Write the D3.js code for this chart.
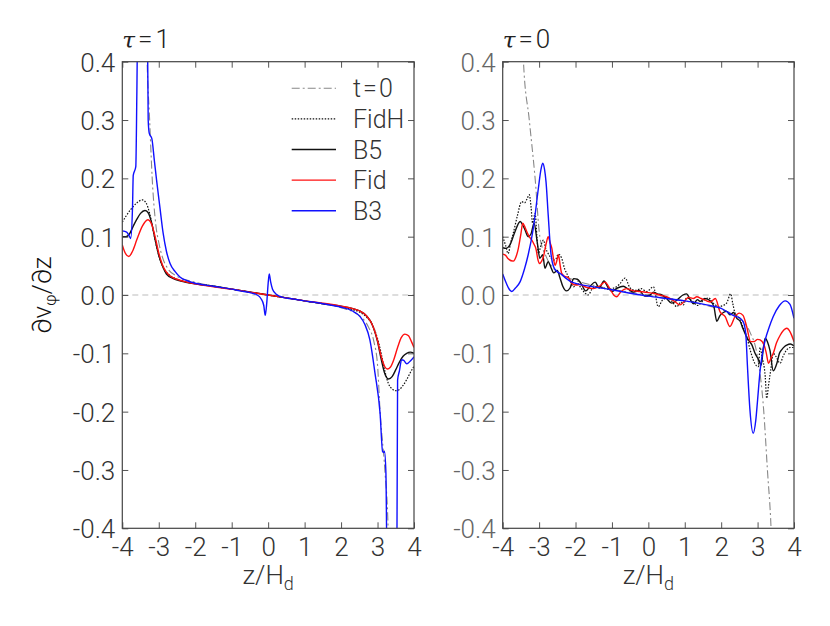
<!DOCTYPE html>
<html><head><meta charset="utf-8">
<script src="https://cdn.jsdelivr.net/npm/d3@7"></script>
<style>
body{margin:0;background:#fff;}
text{font-family:"Roboto","Liberation Sans",sans-serif;font-weight:300;}
</style></head>
<body><svg id="c" width="830" height="626"></svg>
<script>
// ---------- data ----------
const xTicks = [-4,-3,-2,-1,0,1,2,3,4];
const xTickLabels = ["-4","-3","-2","-1","0","1","2","3","4"];
const yTicks = [0.4,0.3,0.2,0.1,0,-0.1,-0.2,-0.3,-0.4];
const yTickLabels = ["0.4","0.3","0.2","0.1","0.0","-0.1","-0.2","-0.3","-0.4"];
const seriesNames = ["t=0","FidH","B5","Fid","B3"];
const panelTitles = ["1","0"];

// Panel tau=1
const leftT0 = [[-3.34,0.45],[-3.32,0.4],[-3.25,0.30],[-3.18,0.20],[-3.08,0.12],[-3.0,0.09],[-2.9,0.065],[-2.75,0.045],[-2.5,0.032],[-2.0,0.022],[-1.0,0.01],[0,0],[1,-0.01],[2,-0.022],[2.5,-0.035],[2.75,-0.055],[2.9,-0.08],[3.0,-0.12],[3.07,-0.2],[3.2,-0.3],[3.29,-0.4],[3.31,-0.45]];
const leftFidH = [[-4,0.125],[-3.9,0.135],[-3.75,0.148],[-3.6,0.158],[-3.45,0.163],[-3.35,0.158],[-3.25,0.14],[-3.15,0.11],[-3.05,0.08],[-2.95,0.058],[-2.85,0.044],[-2.7,0.034],[-2.5,0.027],[-2.2,0.022],[-2,0.02],[-1.5,0.015],[-1,0.01],[-0.5,0.005],[0,0],[0.5,-0.005],[1,-0.01],[1.5,-0.015],[2,-0.02],[2.3,-0.025],[2.5,-0.029],[2.7,-0.038],[2.85,-0.05],[3.0,-0.075],[3.1,-0.1],[3.2,-0.13],[3.3,-0.152],[3.4,-0.161],[3.5,-0.164],[3.6,-0.162],[3.7,-0.155],[3.8,-0.145],[3.9,-0.133],[4,-0.122]];
const leftB5 = [[-4,0.1],[-3.9,0.1],[-3.8,0.105],[-3.7,0.118],[-3.6,0.13],[-3.5,0.14],[-3.38,0.145],[-3.3,0.142],[-3.2,0.125],[-3.1,0.095],[-3.0,0.068],[-2.9,0.05],[-2.79,0.036],[-2.6,0.028],[-2.4,0.024],[-2,0.019],[-1.5,0.015],[-1,0.01],[-0.5,0.005],[0,0],[0.5,-0.005],[1,-0.01],[1.5,-0.015],[2,-0.019],[2.3,-0.023],[2.5,-0.027],[2.7,-0.036],[2.85,-0.05],[3.0,-0.08],[3.1,-0.11],[3.2,-0.135],[3.3,-0.144],[3.4,-0.14],[3.5,-0.128],[3.6,-0.115],[3.7,-0.105],[3.8,-0.1],[3.9,-0.098],[4,-0.1]];
const leftFid = [[-4,0.086],[-3.92,0.072],[-3.82,0.066],[-3.72,0.075],[-3.6,0.095],[-3.45,0.118],[-3.3,0.129],[-3.2,0.122],[-3.1,0.1],[-3.0,0.072],[-2.9,0.052],[-2.8,0.04],[-2.65,0.031],[-2.45,0.026],[-2,0.019],[-1.5,0.014],[-1,0.01],[-0.5,0.005],[0,0],[0.5,-0.005],[1,-0.01],[1.5,-0.014],[2,-0.019],[2.3,-0.023],[2.5,-0.027],[2.7,-0.036],[2.85,-0.05],[3.0,-0.078],[3.1,-0.105],[3.2,-0.123],[3.27,-0.127],[3.35,-0.124],[3.45,-0.11],[3.55,-0.09],[3.65,-0.073],[3.75,-0.067],[3.85,-0.07],[3.93,-0.08],[4,-0.09]];
const leftB3 = [[-4,0.11],[-3.88,0.108],[-3.8,0.1],[-3.77,0.097],[-3.72,0.15],[-3.70,0.205],[-3.63,0.22],[-3.6,0.35],[-3.58,0.45],[-3.31,0.45],[-3.29,0.3],[-3.26,0.277],[-3.19,0.268],[-3.12,0.23],[-3.06,0.197],[-2.97,0.151],[-2.88,0.106],[-2.79,0.075],[-2.69,0.054],[-2.55,0.04],[-2.42,0.031],[-2.2,0.024],[-2.05,0.021],[-1.5,0.015],[-1,0.01],[-0.77,0.007],[-0.5,0.004],[-0.3,0.0],[-0.2,-0.006],[-0.12,-0.018],[-0.08,-0.035],[-0.04,-0.015],[0.0,0.02],[0.03,0.036],[0.07,0.022],[0.12,0.01],[0.23,0.001],[0.4,-0.004],[0.6,-0.006],[1,-0.01],[1.5,-0.015],[2,-0.021],[2.3,-0.027],[2.52,-0.037],[2.65,-0.05],[2.79,-0.077],[2.93,-0.134],[3.07,-0.203],[3.14,-0.269],[3.17,-0.27],[3.19,-0.268],[3.23,-0.306],[3.26,-0.45],[3.53,-0.45],[3.55,-0.146],[3.6,-0.13],[3.66,-0.111],[3.72,-0.112],[3.8,-0.118],[3.9,-0.113],[4,-0.106]];

// Panel tau=0
const rightT0 = [[-3.46,0.45],[-3.43,0.4],[-3.27,0.30],[-3.11,0.20],[-2.98,0.10],[-2.8,0.065],[-2.6,0.045],[-2.3,0.032],[-2.0,0.025],[-1.0,0.01],[0,0],[1,-0.01],[2,-0.025],[2.3,-0.032],[2.6,-0.045],[2.8,-0.065],[2.98,-0.1],[3.17,-0.2],[3.27,-0.3],[3.37,-0.4],[3.4,-0.45]];
const rightFidH = [[-4,0.1],[-3.92,0.085],[-3.85,0.071],[-3.78,0.09],[-3.71,0.106],[-3.6,0.135],[-3.48,0.16],[-3.4,0.158],[-3.33,0.165],[-3.27,0.172],[-3.22,0.15],[-3.18,0.123],[-3.11,0.14],[-3.06,0.1],[-3.02,0.071],[-2.95,0.085],[-2.88,0.094],[-2.82,0.08],[-2.75,0.071],[-2.65,0.062],[-2.56,0.06],[-2.47,0.07],[-2.38,0.063],[-2.3,0.045],[-2.24,0.037],[-2.15,0.025],[-2.06,0.014],[-1.95,0.02],[-1.85,0.012],[-1.75,0.004],[-1.65,0.0],[-1.55,0.01],[-1.4,0.015],[-1.25,0.012],[-1.1,0.01],[-0.95,0.012],[-0.8,0.018],[-0.64,0.029],[-0.5,0.012],[-0.35,0.008],[-0.2,0.011],[-0.05,0.006],[0.14,0.014],[0.27,-0.02],[0.4,-0.008],[0.55,-0.005],[0.66,-0.012],[0.78,-0.02],[0.9,-0.012],[0.96,-0.017],[1.05,-0.005],[1.2,-0.01],[1.35,-0.018],[1.5,-0.01],[1.65,-0.005],[1.8,-0.015],[1.95,-0.02],[2.05,-0.018],[2.15,-0.014],[2.26,0.002],[2.32,-0.015],[2.38,-0.031],[2.5,-0.04],[2.6,-0.055],[2.7,-0.071],[2.8,-0.095],[2.88,-0.111],[2.95,-0.12],[3.02,-0.123],[3.07,-0.09],[3.12,-0.105],[3.21,-0.14],[3.25,-0.177],[3.3,-0.155],[3.36,-0.129],[3.43,-0.1],[3.5,-0.105],[3.62,-0.117],[3.7,-0.105],[3.8,-0.094],[3.9,-0.09],[4,-0.09]];
const rightB5 = [[-4,0.081],[-3.9,0.08],[-3.8,0.086],[-3.66,0.109],[-3.52,0.126],[-3.45,0.12],[-3.39,0.112],[-3.3,0.1],[-3.22,0.105],[-3.14,0.123],[-3.05,0.09],[-2.98,0.063],[-2.9,0.069],[-2.84,0.046],[-2.75,0.057],[-2.68,0.048],[-2.6,0.038],[-2.5,0.042],[-2.43,0.03],[-2.35,0.015],[-2.25,0.007],[-2.15,0.012],[-2.05,0.028],[-1.95,0.027],[-1.85,0.02],[-1.72,0.007],[-1.6,0.015],[-1.46,0.022],[-1.35,0.012],[-1.22,0.024],[-1.1,0.012],[-1.0,0.006],[-0.85,0.012],[-0.69,0.015],[-0.55,0.01],[-0.41,0.005],[-0.25,0.008],[-0.1,-0.002],[0.05,0.0],[0.14,0.005],[0.25,0.002],[0.37,0.0],[0.5,-0.006],[0.64,-0.014],[0.8,-0.008],[0.95,0.0],[1.05,0.002],[1.15,-0.008],[1.24,-0.015],[1.35,-0.008],[1.42,-0.011],[1.55,-0.006],[1.7,-0.01],[1.8,-0.02],[1.88,-0.045],[1.97,-0.035],[2.06,-0.03],[2.15,-0.028],[2.24,-0.034],[2.34,-0.03],[2.43,-0.04],[2.52,-0.045],[2.6,-0.058],[2.7,-0.072],[2.78,-0.08],[2.84,-0.085],[2.93,-0.1],[3.02,-0.11],[3.1,-0.12],[3.15,-0.095],[3.21,-0.074],[3.27,-0.08],[3.34,-0.095],[3.43,-0.13],[3.53,-0.117],[3.6,-0.1],[3.66,-0.094],[3.75,-0.088],[3.8,-0.086],[3.9,-0.084],[4,-0.087]];
const rightFid = [[-4,0.07],[-3.92,0.068],[-3.85,0.062],[-3.71,0.058],[-3.62,0.068],[-3.57,0.08],[-3.5,0.105],[-3.45,0.123],[-3.4,0.118],[-3.34,0.109],[-3.27,0.1],[-3.2,0.094],[-3.14,0.087],[-3.09,0.08],[-3.03,0.06],[-2.99,0.054],[-2.93,0.058],[-2.88,0.066],[-2.8,0.09],[-2.75,0.1],[-2.7,0.09],[-2.65,0.08],[-2.6,0.06],[-2.56,0.051],[-2.5,0.062],[-2.47,0.069],[-2.42,0.05],[-2.38,0.037],[-2.3,0.032],[-2.2,0.03],[-2.1,0.02],[-1.98,0.017],[-1.88,0.018],[-1.7,0.013],[-1.51,0.011],[-1.35,0.015],[-1.19,0.022],[-1.05,0.01],[-0.95,0.0],[-0.87,-0.003],[-0.75,0.006],[-0.6,0.011],[-0.45,0.008],[-0.23,0.006],[0,0.004],[0.14,0.003],[0.3,0.0],[0.5,-0.003],[0.7,-0.01],[0.87,-0.017],[1.0,-0.01],[1.1,-0.004],[1.24,-0.006],[1.33,-0.003],[1.45,-0.006],[1.6,-0.01],[1.7,-0.012],[1.84,-0.006],[1.97,-0.029],[2.11,-0.037],[2.24,-0.054],[2.38,-0.037],[2.5,-0.031],[2.6,-0.035],[2.7,-0.054],[2.81,-0.08],[2.9,-0.08],[3.0,-0.076],[3.07,-0.077],[3.18,-0.086],[3.24,-0.1],[3.3,-0.117],[3.37,-0.108],[3.43,-0.1],[3.52,-0.082],[3.62,-0.069],[3.72,-0.06],[3.8,-0.057],[3.9,-0.064],[4,-0.08]];
const rightB3 = [[-4,0.036],[-3.9,0.02],[-3.8,0.008],[-3.75,0.006],[-3.65,0.012],[-3.52,0.023],[-3.4,0.045],[-3.3,0.069],[-3.16,0.114],[-3.02,0.183],[-2.95,0.215],[-2.9,0.226],[-2.85,0.215],[-2.81,0.194],[-2.75,0.137],[-2.68,0.074],[-2.6,0.048],[-2.5,0.04],[-2.38,0.035],[-2.25,0.028],[-2.1,0.022],[-1.5,0.014],[-1,0.009],[-0.5,0.003],[0,-0.002],[0.5,-0.006],[1,-0.01],[1.6,-0.017],[2.0,-0.023],[2.33,-0.035],[2.52,-0.04],[2.62,-0.048],[2.68,-0.07],[2.72,-0.12],[2.79,-0.197],[2.88,-0.237],[2.95,-0.215],[3.0,-0.18],[3.07,-0.129],[3.14,-0.098],[3.21,-0.077],[3.32,-0.055],[3.43,-0.037],[3.6,-0.018],[3.76,-0.01],[3.89,-0.016],[4,-0.04]];

const panels = [
  {title: panelTitles[0], left:122.3, right:414, labelColor:"#333", series:[leftT0,leftFidH,leftB5,leftFid,leftB3], legend:true},
  {title: panelTitles[1], left:502.7, right:794, labelColor:"#666", series:[rightT0,rightFidH,rightB5,rightFid,rightB3], legend:false}
];
const styles = [
  {color:"#888", width:1.1, dash:"8,3,2,3"},
  {color:"#111", width:1.2, dash:"1.5,1.5"},
  {color:"#111", width:1.4, dash:null},
  {color:"#ff1010", width:1.4, dash:null},
  {color:"#1010ff", width:1.4, dash:null}
];

const plotTop = 61.7, plotBottom = 528.3;
const svg = d3.select("#c");
const y = d3.scaleLinear().domain([-0.4,0.4]).range([plotBottom, plotTop]);
const FONT = "Roboto, 'Liberation Sans', sans-serif";
const FS = 26;

panels.forEach((p,pi)=>{
  const x = d3.scaleLinear().domain([-4,4]).range([p.left, p.right]);
  const g = svg.append("g");
  const cid = "clip"+pi;
  svg.append("defs").append("clipPath").attr("id",cid).append("rect")
    .attr("x",p.left).attr("y",plotTop).attr("width",p.right-p.left).attr("height",plotBottom-plotTop);

  g.append("line").attr("x1",x(-4)).attr("x2",x(4)).attr("y1",y(0)).attr("y2",y(0))
    .attr("stroke","#bbb").attr("stroke-width",1).attr("stroke-dasharray","6,4");

  const line = d3.line().x(d=>x(d[0])).y(d=>y(d[1])).curve(d3.curveMonotoneX);
  const lg = g.append("g").attr("clip-path",`url(#${cid})`);
  p.series.forEach((s,i)=>{
    const st = styles[i];
    lg.append("path").datum(s).attr("d",line).attr("fill","none")
      .attr("stroke",st.color).attr("stroke-width",st.width)
      .attr("stroke-dasharray",st.dash).attr("stroke-linejoin","round");
  });

  const tl = 6;
  const axB = d3.axisBottom(x).tickValues(xTicks).tickSize(-tl).tickFormat((d,i)=>xTickLabels[i]);
  const axT = d3.axisTop(x).tickValues(xTicks).tickSize(-tl).tickFormat("");
  const axL = d3.axisLeft(y).tickValues(yTicks).tickSize(-tl).tickFormat((d,i)=>yTickLabels[i]);
  const axR = d3.axisRight(y).tickValues(yTicks).tickSize(-tl).tickFormat("");
  const gb = g.append("g").attr("transform",`translate(0,${plotBottom})`).call(axB);
  const gt = g.append("g").attr("transform",`translate(0,${plotTop})`).call(axT);
  const gl = g.append("g").attr("transform",`translate(${p.left},0)`).call(axL);
  const gr = g.append("g").attr("transform",`translate(${p.right},0)`).call(axR);
  [gb,gt,gl,gr].forEach(a=>{
    a.select(".domain").remove();
    a.selectAll(".tick line").attr("stroke","#555").attr("stroke-width",1);
  });
  gb.selectAll(".tick text").attr("font-size",FS).attr("fill","#333")
    .attr("font-family",FONT).attr("font-weight",300).attr("dy",null).attr("y",28);
  gl.selectAll(".tick text").attr("font-size",FS).attr("fill",p.labelColor)
    .attr("font-family",FONT).attr("font-weight",300).attr("x",-7).attr("dy","0.36em");
  g.append("rect").attr("x",p.left).attr("y",plotTop).attr("width",p.right-p.left).attr("height",plotBottom-plotTop)
    .attr("fill","none").attr("stroke","#444").attr("stroke-width",1.2);

  const t = g.append("text").attr("x",p.left).attr("y",48).attr("font-size",FS).attr("fill","#222");
  t.append("tspan").attr("font-style","italic").attr("font-family","'DejaVu Serif', serif").attr("font-size",23).text("τ");
  t.append("tspan").attr("dx",3).text("=");
  t.append("tspan").attr("dx",3).text(p.title);

  const xl = g.append("text").attr("x",(p.left+p.right)/2).attr("y",584).attr("text-anchor","middle")
    .attr("font-size",FS).attr("fill","#333");
  xl.append("tspan").text("z/H");
  xl.append("tspan").attr("font-size",18).attr("dy",6).text("d");

  if(p.legend){
    const lx1 = 291.7, lx2 = 336, ty0 = 88.3, dy = 30.6;
    seriesNames.forEach((n,i)=>{
      const st = styles[i];
      const yy = ty0 + i*dy;
      g.append("line").attr("x1",lx1).attr("x2",lx2).attr("y1",yy).attr("y2",yy)
        .attr("stroke",st.color).attr("stroke-width",st.width).attr("stroke-dasharray",st.dash);
      const lt = g.append("text").attr("x",353).attr("y",yy).attr("dy","0.36em").attr("font-size",25).attr("fill","#333");
      if(n==="t=0"){
        lt.append("tspan").text("t");
        lt.append("tspan").attr("dx",2).text("=");
        lt.append("tspan").attr("dx",2).text("0");
      } else lt.text(n);
    });
  }
});

const yl = svg.append("text").attr("transform","translate(51,295) rotate(-90)").attr("text-anchor","middle")
  .attr("font-size",26).attr("fill","#111").attr("font-family","'Liberation Sans', sans-serif").attr("font-weight",400);
yl.append("tspan").text("∂v");
yl.append("tspan").attr("font-size",17).attr("dy",5).text("φ");
yl.append("tspan").attr("dy",-5).text("/∂z");
</script></body></html>
